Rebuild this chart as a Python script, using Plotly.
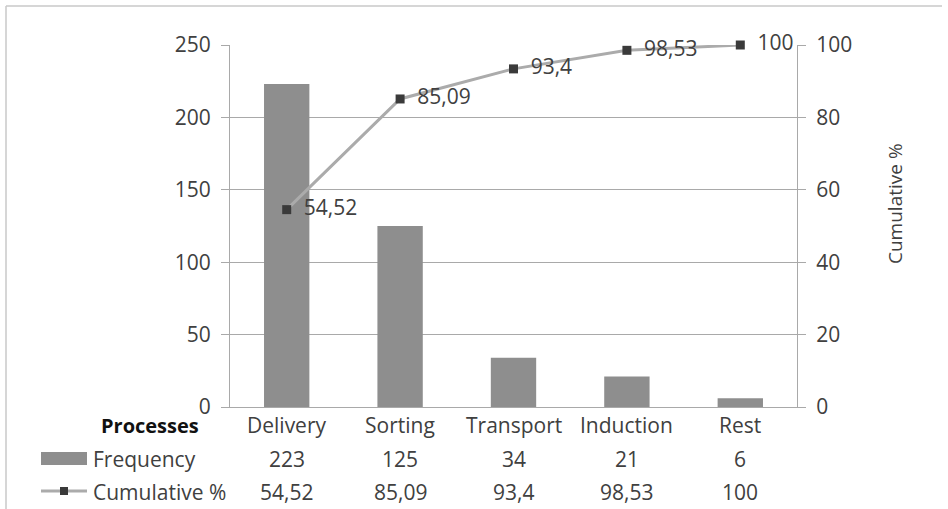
import plotly.graph_objects as go

categories = ["Delivery", "Sorting", "Transport", "Induction", "Rest"]
frequency = [223, 125, 34, 21, 6]
cumulative = [54.52, 85.09, 93.4, 98.53, 100]
cum_labels = ["54,52", "85,09", "93,4", "98,53", "100"]
left_ticks = [0, 50, 100, 150, 200, 250]
right_ticks = [0, 20, 40, 60, 80, 100]

W, H = 948, 509
L, R, T, B = 230, 797, 45, 407
FONT = "Open Sans"
FS = 21
TXT = "#404040"
GRID = "#a9a9a9"

def px(x):
    return (x - L) / (R - L)

def py(y):
    return (B - y) / (B - T)

fig = go.Figure()
fig.add_trace(go.Bar(
    x=list(range(len(categories))), y=frequency, width=0.4,
    marker=dict(color="#8e8e8e", line=dict(width=0)),
    name="Frequency", yaxis="y", hoverinfo="y"))
fig.add_trace(go.Scatter(
    x=list(range(len(categories))), y=cumulative, yaxis="y2",
    mode="lines+markers+text", text=["\u2002" + t for t in cum_labels],
    textposition="middle right",
    textfont=dict(family=FONT, size=FS, color=TXT),
    line=dict(color="#ababab", width=3),
    marker=dict(symbol="square", size=9, color="#3a3a3a"),
    name="Cumulative %", cliponaxis=False))

annotations = []
for i, c in enumerate(categories):
    annotations.append(dict(x=i, y=0, xref="x", yref="paper", text=c, showarrow=False,
                            xanchor="center", yanchor="middle", yshift=-18,
                            font=dict(family=FONT, size=FS, color=TXT)))
    annotations.append(dict(x=i, y=0, xref="x", yref="paper", text=str(frequency[i]), showarrow=False,
                            xanchor="center", yanchor="middle", yshift=-52,
                            font=dict(family=FONT, size=FS, color=TXT)))
    annotations.append(dict(x=i, y=0, xref="x", yref="paper", text=cum_labels[i], showarrow=False,
                            xanchor="center", yanchor="middle", yshift=-85,
                            font=dict(family=FONT, size=FS, color=TXT)))
annotations.append(dict(x=px(150), y=0, xref="paper", yref="paper", text="<b>Processes</b>",
                        showarrow=False, xanchor="center", yanchor="middle", yshift=-18,
                        font=dict(family=FONT, size=20, color="#111111")))
annotations.append(dict(x=px(91), y=0, xref="paper", yref="paper", text="Frequency",
                        showarrow=False, xanchor="left", yanchor="middle", yshift=-52,
                        font=dict(family=FONT, size=FS, color=TXT)))
annotations.append(dict(x=px(91), y=0, xref="paper", yref="paper", text="Cumulative %",
                        showarrow=False, xanchor="left", yanchor="middle", yshift=-85,
                        font=dict(family=FONT, size=FS, color=TXT)))
# right axis title
annotations.append(dict(x=px(895), y=py(204), xref="paper", yref="paper", text="Cumulative %",
                        showarrow=False, textangle=-90, xanchor="center", yanchor="middle",
                        font=dict(family=FONT, size=19, color=TXT)))

shapes = [
    dict(type="line", xref="paper", yref="paper", x0=px(6), x1=px(942), y0=py(6), y1=py(6),
         line=dict(color="#c8c8c8", width=1.5)),
    dict(type="line", xref="paper", yref="paper", x0=px(6), x1=px(6), y0=py(6), y1=py(509),
         line=dict(color="#c8c8c8", width=1.5)),
    dict(type="rect", xref="paper", yref="paper", x0=px(41), x1=px(87), y0=py(452), y1=py(465),
         fillcolor="#8e8e8e", line=dict(width=0)),
    dict(type="line", xref="paper", yref="paper", x0=px(41), x1=px(87), y0=py(491), y1=py(491),
         line=dict(color="#ababab", width=3)),
    dict(type="rect", xref="paper", yref="paper", x0=px(60), x1=px(68), y0=py(487), y1=py(495),
         fillcolor="#3a3a3a", line=dict(width=0)),
]

fig.update_layout(
    width=W, height=H,
    margin=dict(l=L, r=W - R, t=T, b=H - B, pad=0),
    paper_bgcolor="white", plot_bgcolor="white",
    showlegend=False,
    font=dict(family=FONT, size=FS, color=TXT),
    xaxis=dict(range=[-0.5, len(categories) - 0.5], showticklabels=False, showgrid=False,
               zeroline=False, showline=True, linecolor=GRID, linewidth=1, ticks=""),
    yaxis=dict(range=[0, 250], tickvals=left_ticks, showgrid=True, gridcolor=GRID, gridwidth=1,
               zeroline=False, showline=True, linecolor=GRID, linewidth=1,
               ticks="outside", ticklen=8, tickcolor=GRID,
               tickfont=dict(family=FONT, size=FS, color=TXT), ticklabelstandoff=6),
    yaxis2=dict(range=[0, 100], tickvals=right_ticks, overlaying="y", side="right",
                showgrid=False, zeroline=False, showline=True, linecolor=GRID, linewidth=1,
                ticks="outside", ticklen=8, tickcolor=GRID,
                tickfont=dict(family=FONT, size=FS, color=TXT), ticklabelstandoff=6),
    annotations=annotations, shapes=shapes,
)

fig.write_html("out.html")
